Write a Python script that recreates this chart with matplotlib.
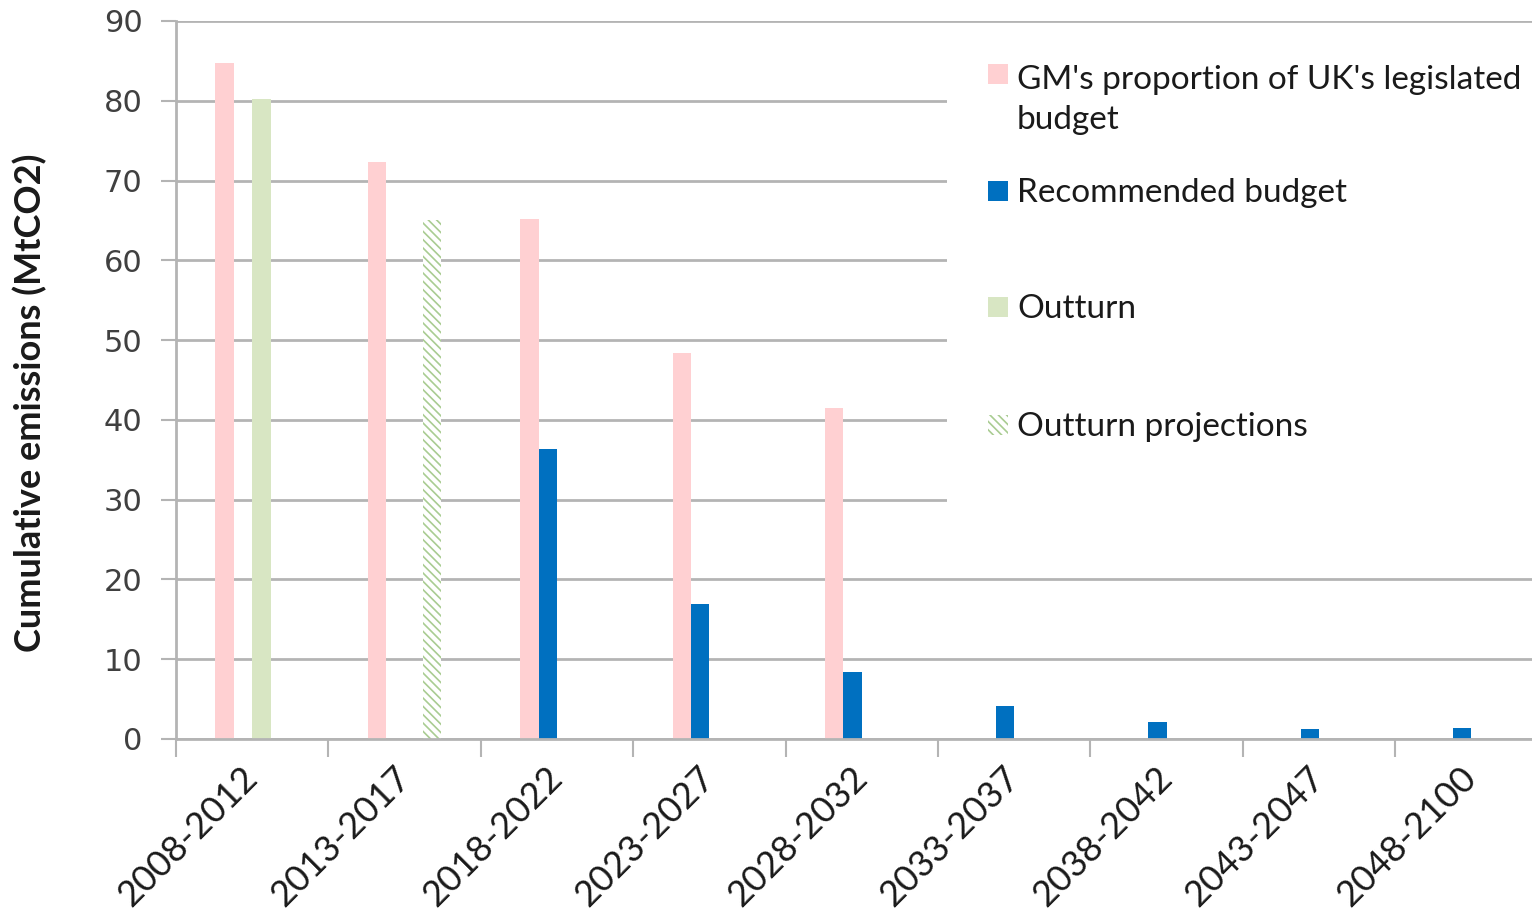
import numpy as np
import matplotlib.pyplot as plt
from matplotlib.patches import Rectangle

periods = ["2008-2012", "2013-2017", "2018-2022", "2023-2027", "2028-2032",
           "2033-2037", "2038-2042", "2043-2047", "2048-2100"]
gm_share = [84.7, 72.3, 65.2, 48.4, 41.5, 0, 0, 0, 0]
recommended = [0, 0, 36.4, 16.9, 8.4, 4.1, 2.1, 1.2, 1.4]
outturn = [80.2, 0, 0, 0, 0, 0, 0, 0, 0]
outturn_proj = [0, 65.0, 0, 0, 0, 0, 0, 0, 0]

PINK = "#FFD0D2"
BLUE = "#0070C0"
GREEN = "#D8E6C3"
HATCH_GREEN = "#A9CC92"
GRID = "#B4B4B4"

fig = plt.figure(figsize=(15.32, 9.17), dpi=100)
W, H = 1532, 917
ax = fig.add_axes([176 / W, 178 / H, 9 * 152.4 / W, 718 / H])

x = np.arange(len(periods))
w = 0.121
plt.rcParams["hatch.linewidth"] = 1.2
ax.bar(x - 1.5 * w, gm_share, w, color=PINK, zorder=2)
ax.bar(x - 0.5 * w, recommended, w, color=BLUE, zorder=2)
ax.bar(x + 0.5 * w, outturn, w, color=GREEN, zorder=2)
ax.bar(x + 1.5 * w, outturn_proj, w, color="white", edgecolor=HATCH_GREEN,
       hatch="\\\\\\\\", linewidth=0, zorder=2)

ax.set_xlim(-0.5, 8.5)
ax.set_ylim(0, 90)
ax.set_yticks(range(0, 91, 10))
ax.yaxis.grid(True, color=GRID, linewidth=2, zorder=0)
ax.set_axisbelow(True)
for s in ["top", "right"]:
    ax.spines[s].set_visible(False)
for s in ["left", "bottom"]:
    ax.spines[s].set_color(GRID)
    ax.spines[s].set_linewidth(2)

ax.tick_params(axis="y", length=11, width=1.5, color=GRID, pad=13,
               labelsize=22, labelcolor="#404040")
for lab in ax.get_yticklabels():
    lab.set_fontfamily("DejaVu Sans")

ax.set_xticks(x)
ax.set_xticks(np.arange(-0.5, 9, 1), minor=True)
ax.tick_params(axis="x", which="major", length=0, pad=24)
ax.tick_params(axis="x", which="minor", length=13, width=1.5, color=GRID)
ax.set_xticklabels(periods, rotation=45, ha="right", va="center",
                   rotation_mode="anchor", fontsize=26, fontfamily="Lato",
                   color="#1a1a1a")

ax.set_ylabel("Cumulative emissions (MtCO2)", fontsize=26, fontweight="bold",
              fontfamily="Lato", color="#1a1a1a")
ax.yaxis.set_label_coords(-0.094, 0.469)

# legend panel sits over the gridlines on the right
fig.patches.append(Rectangle((947 / W, (917 - 545) / H), (W - 947) / W,
                             (545 - 35) / H, transform=fig.transFigure,
                             facecolor="white", edgecolor="none", zorder=1))

entries = [
    (PINK, None, "GM's proportion of UK's legislated\nbudget", 74),
    (BLUE, None, "Recommended budget", 191),
    (GREEN, None, "Outturn", 307),
    ("white", HATCH_GREEN, "Outturn projections", 425),
]
line_h = 44
for color, hatch_col, label, yc in entries:
    r = Rectangle((988 / W, (917 - yc - 10) / H), 20 / W, 20 / H,
                  transform=fig.transFigure, facecolor=color,
                  edgecolor=hatch_col if hatch_col else "none",
                  hatch="\\\\\\\\" if hatch_col else None, linewidth=0, zorder=2)
    fig.patches.append(r)
    # baseline of the last line
    base = yc + 11 + line_h * label.count("\n")
    fig.text(1017 / W, (917 - base) / H, label, fontsize=24,
             fontfamily="Lato", color="#1a1a1a", va="baseline",
             linespacing=1.4, zorder=3)

fig.savefig("out.png", dpi=100)
